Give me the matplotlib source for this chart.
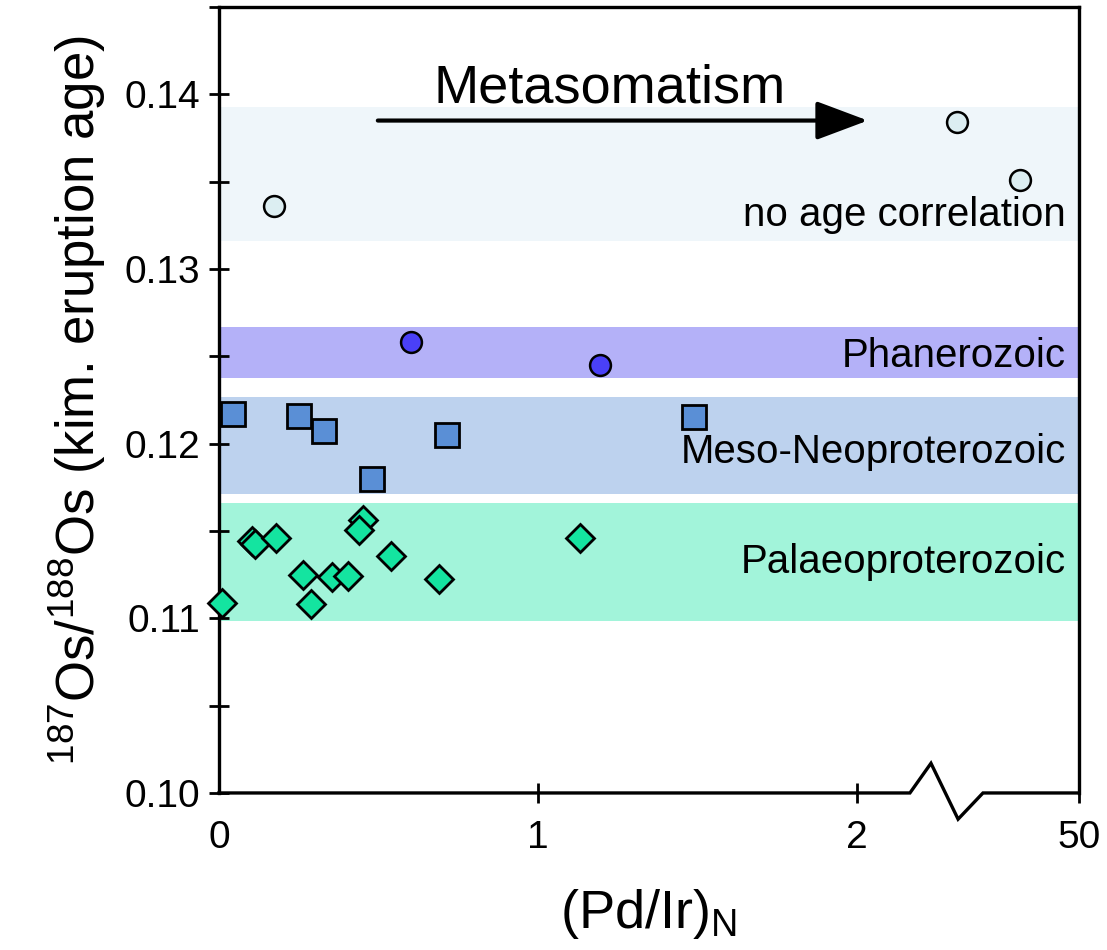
import numpy as np
import matplotlib
matplotlib.use('Agg')
import matplotlib.pyplot as plt

plt.rcParams['font.family'] = ['Liberation Sans', 'DejaVu Sans']
plt.rcParams['mathtext.fontset'] = 'custom'
plt.rcParams['mathtext.rm'] = 'Liberation Sans'

# (Pd/Ir)N position on the broken axis, 187Os/188Os
pal_x = [0.010, 0.102, 0.113, 0.179, 0.262, 0.288, 0.355, 0.405, 0.451, 0.438, 0.539, 0.691, 1.133]
pal_y = [0.1109, 0.1144, 0.11425, 0.1146, 0.11248, 0.11083, 0.11238, 0.11243, 0.11562, 0.11505, 0.11354, 0.11225, 0.11459]

meso_x = [0.043, 0.252, 0.329, 0.479, 0.716, 1.488]
meso_y = [0.1217, 0.1216, 0.1207, 0.1180, 0.1205, 0.1215]

phan_x = [0.602, 1.194]
phan_y = [0.1258, 0.1245]

noage_x = [0.172, 2.313, 2.511]
noage_y = [0.1336, 0.1384, 0.1351]

# age bands (lower, upper)
bands = {
    'no age correlation': (0.1316, 0.1393),
    'Phanerozoic': (0.12375, 0.12667),
    'Meso-Neoproterozoic': (0.11711, 0.12266),
    'Palaeoproterozoic': (0.10984, 0.11659),
}
band_colors = {
    'no age correlation': '#EFF6FA',
    'Phanerozoic': '#B4B1F8',
    'Meso-Neoproterozoic': '#BDD2EE',
    'Palaeoproterozoic': '#A2F4DA',
}
label_y = {
    'no age correlation': 0.13245,
    'Phanerozoic': 0.12438,
    'Meso-Neoproterozoic': 0.11888,
    'Palaeoproterozoic': 0.11261,
}

xmax = 2.696
xtick_pos = [0, 1, 2, xmax]
xtick_labels = ['0', '1', '2', '50']

fig = plt.figure(figsize=(11.07, 9.5), dpi=100)
ax = fig.add_axes([0.1978, 0.1653, 0.7769, 0.8273])

for name, (lo, hi) in bands.items():
    ax.axhspan(lo, hi, color=band_colors[name], lw=0, zorder=0)
    ax.text(2.655, label_y[name], name, ha='right', va='baseline', fontsize=29, zorder=3)

ax.plot(noage_x, noage_y, 'o', ms=15, mfc='#DCEEF2', mec='black', mew=1.8, zorder=4)
ax.plot(phan_x, phan_y, 'o', ms=15, mfc='#4A40F8', mec='black', mew=1.8, zorder=4)
ax.plot(meso_x, meso_y, 's', ms=17, mfc='#5A8FD6', mec='black', mew=2.0, zorder=4)
ax.plot(pal_x, pal_y, 'D', ms=14.5, mfc='#14E4A0', mec='black', mew=2.0, zorder=4, clip_on=False)

# metasomatism arrow
ax.annotate('', xy=(2.034, 0.1385), xytext=(0.498, 0.1385),
            arrowprops=dict(arrowstyle='-|>,head_length=1.6,head_width=0.6',
                            lw=3, color='black', mutation_scale=20,
                            shrinkA=0, shrinkB=0))
ax.text(1.226, 0.13956, 'Metasomatism', ha='center', va='baseline', fontsize=39)

ax.set_xlim(0, xmax)
ax.set_ylim(0.10, 0.145)

# broken bottom axis
ax.spines['bottom'].set_visible(False)
ax.plot([0, 2.166, 2.232, 2.317, 2.395, xmax],
        [0.10, 0.10, 0.1017, 0.0985, 0.10, 0.10],
        color='black', lw=2.4, clip_on=False, zorder=5, solid_joinstyle='miter')
for s in ['left', 'right', 'top']:
    ax.spines[s].set_linewidth(2.4)

ax.set_xticks(xtick_pos)
ax.set_xticklabels(xtick_labels)
ax.xaxis.get_major_ticks()[0].tick1line.set_visible(False)
ax.set_yticks([0.10, 0.11, 0.12, 0.13, 0.14])
ax.set_yticklabels(['0.10', '0.11', '0.12', '0.13', '0.14'])
ax.set_yticks(np.arange(0.105, 0.146, 0.01), minor=True)
ax.tick_params(axis='both', which='both', direction='inout', length=15, width=2, labelsize=28)
ax.tick_params(axis='x', pad=12)
ax.tick_params(axis='y', pad=6)

ax.set_xlabel(r'(Pd/Ir)$_\mathrm{N}$', fontsize=39, labelpad=22)
ax.set_ylabel(r'$^{187}$Os/$^{188}$Os (kim. eruption age)', fontsize=38, labelpad=12)

fig.savefig('out.png', dpi=100)
